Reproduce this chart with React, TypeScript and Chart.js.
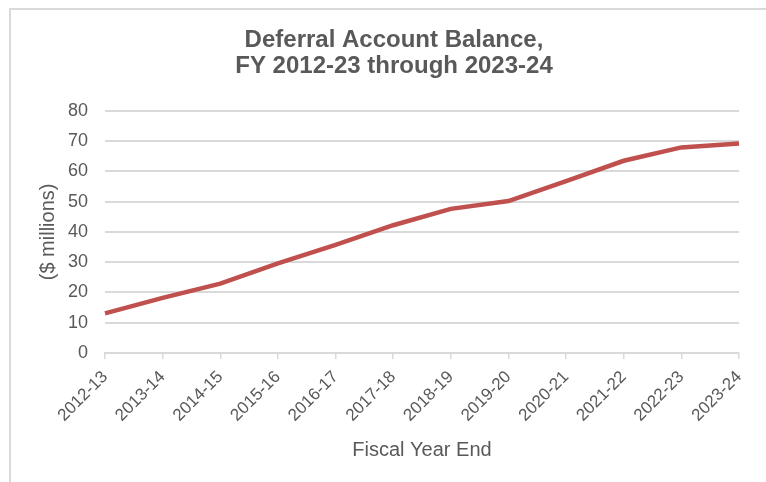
import React, { useEffect, useRef } from "react";
import { Chart, registerables } from "chart.js";

Chart.register(...registerables);

const categories = [
  "2012-13", "2013-14", "2014-15", "2015-16", "2016-17", "2017-18",
  "2018-19", "2019-20", "2020-21", "2021-22", "2022-23", "2023-24",
];
const balances = [13.1, 18.2, 22.9, 29.6, 35.7, 42.2, 47.6, 50.2, 56.8, 63.5, 67.9, 69.2];
const yTicks = [0, 10, 20, 30, 40, 50, 60, 70, 80];
const titleLines = ["Deferral Account Balance,", "FY 2012-23 through 2023-24"];
const yTitle = "($ millions)";
const xTitle = "Fiscal Year End";

const TEXT = "#595959";
const GRID = "#D9D9D9";
const LINE = "#C0504D";
const FONT = "'Liberation Sans', Arial, sans-serif";

export default function App() {
  const ref = useRef<HTMLCanvasElement | null>(null);

  useEffect(() => {
    if (!ref.current) return;
    const chart = new Chart(ref.current, {
      type: "line",
      data: {
        labels: categories,
        datasets: [
          {
            data: balances,
            borderColor: LINE,
            backgroundColor: LINE,
            borderWidth: 4.5,
            pointRadius: 0,
            tension: 0,
            fill: false,
            yAxisID: "y",
          },
        ],
      },
      options: {
        responsive: false,
        animation: false,
        layout: { padding: { top: 0, left: 22, right: 0, bottom: 0 } },
        plugins: {
          legend: { display: false },
          tooltip: { enabled: false },
          title: {
            display: true,
            text: titleLines,
            color: TEXT,
            font: { family: FONT, size: 24, weight: "bold", lineHeight: 1.1 },
            padding: { top: 27, bottom: 31 },
          },
        },
        scales: {
          x: {
            offset: false,
            afterFit: (s: any) => { s.height = 129; },
            grid: {
              display: true,
              drawOnChartArea: false,
              drawTicks: true,
              tickLength: 6,
              color: GRID,
              lineWidth: 1.5,
            },
            border: { display: true, color: GRID, width: 2 },
            ticks: {
              color: TEXT,
              font: { family: FONT, size: 17 },
              minRotation: 45,
              maxRotation: 45,
              autoSkip: false,
              padding: 8,
            },
            title: {
              display: true,
              text: xTitle,
              color: TEXT,
              font: { family: FONT, size: 20, lineHeight: 1.2 },
              padding: { top: 0, bottom: 20 },
            },
          },
          y: {
            min: 0,
            max: 80,
            position: "left",
            afterFit: (s: any) => { s.width = 83; },
            afterBuildTicks: (s: any) => { s.ticks = yTicks.map((v) => ({ value: v })); },
            grid: { color: GRID, lineWidth: 2, drawTicks: false },
            border: { display: false },
            ticks: {
              color: TEXT,
              font: { family: FONT, size: 18 },
              padding: 17,
            },
            title: {
              display: true,
              text: yTitle,
              color: TEXT,
              font: { family: FONT, size: 20, lineHeight: 1.2 },
              padding: { top: 14, bottom: 0 },
            },
          },
          yRight: {
            type: "linear",
            position: "right",
            min: 0,
            max: 80,
            afterFit: (s: any) => { s.width = 27; },
            grid: { display: false, drawOnChartArea: false, drawTicks: false },
            border: { display: false },
            ticks: { display: false },
          },
        },
      },
    });
    return () => chart.destroy();
  }, []);

  return (
    <div>
      <div
        style={{
          position: "fixed",
          left: 9,
          top: 8,
          width: 780,
          height: 500,
          borderLeft: "2px solid #D9D9D9",
          borderTop: "2px solid #D9D9D9",
          boxSizing: "border-box",
        }}
      />
      <div style={{ position: "fixed", left: 0, top: 0, width: 766, height: 482 }}>
        <canvas ref={ref} width={766} height={482} style={{ display: "block" }} />
      </div>
    </div>
  );
}
